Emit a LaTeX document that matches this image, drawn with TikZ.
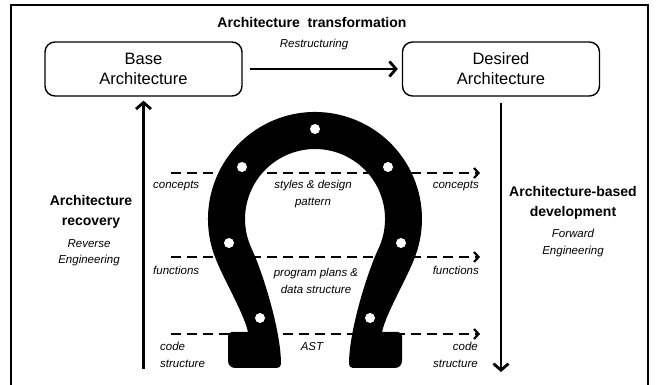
\documentclass[tikz,border=0pt]{standalone}
\usepackage{fontspec}
\setmainfont{Liberation Sans}
\usetikzlibrary{arrows.meta}
\begin{document}
\begin{tikzpicture}[x=1pt,y=1pt,
  archbox/.style={draw, line width=1.4pt, rounded corners=10pt,
    minimum width=197pt, minimum height=54pt, align=center,
    font=\fontsize{16.5}{20}\selectfont},
  mainarrow/.style={line width=2.8pt, -{Straight Barb[length=6.5pt,width=15pt]}},
  layerarrow/.style={line width=2.2pt, dash pattern=on 10pt off 6pt,
    -{Straight Barb[length=4.5pt,width=10pt]}},
  lbl/.style={font=\fontsize{11.5}{16.5}\selectfont\itshape, inner sep=0pt, align=center},
  headlbl/.style={font=\fontsize{14}{20}\selectfont\bfseries, inner sep=0pt, align=center},
  hole/.style={fill=white}
]
\useasboundingbox (0,0) rectangle (656,385);

% outer frame (open at the bottom)
\draw[line width=2pt] (11,-5) -- (11,380) -- (648,380) -- (648,-5);

% architecture boxes
\node[archbox] (base) at (143.5,316) {Base\\Architecture};
\node[archbox] (desired) at (501,316) {Desired\\Architecture};

% transformation
\node[headlbl] (title) at (312,362) {Architecture\ \ transformation};
\node[lbl] (restr) at (314,340) {Restructuring};
\draw[mainarrow, shorten <=7pt, shorten >=4pt] (base) -- (desired);

% recovery and forward development
\coordinate (lbot) at (143.5,16);
\coordinate (rbot) at (501,13);
\draw[mainarrow, shorten >=4pt] (lbot) -- (base);
\draw[mainarrow, shorten <=6pt] (desired) -- (rbot);

\node[headlbl] (rec) at (91,173) {Architecture\\recovery};
\node[lbl] (rev) at (89,132.5) {Reverse\\Engineering};
\node[headlbl] (abd) at (573,182) {Architecture-based\\development};
\node[lbl] (fwd) at (573,142) {Forward\\Engineering};

% abstraction levels
\coordinate (c1s) at (171,212);  \coordinate (c1e) at (480,212);
\coordinate (c2s) at (171,128);  \coordinate (c2e) at (480,128);
\coordinate (c3s) at (171,51);   \coordinate (c3e) at (480,51);
\draw[layerarrow] (c1s) -- (c1e);
\draw[layerarrow] (c2s) -- (c2e);
\draw[layerarrow] (c3s) -- (c3e);

% horseshoe
\fill[black]
  (417.4,135.1) arc[start angle=-16.8, end angle=196.8, radius=107pt]
  .. controls (219.8,111.1) and (243,75) .. (248,53)
  -- (232,53) arc[start angle=90, end angle=180, radius=4pt]
  -- (228,24) arc[start angle=180, end angle=270, radius=7pt]
  -- (277,17) arc[start angle=-90, end angle=0, radius=4pt]
  .. controls (281,55) and (262.2,113.8) .. (251.6,136.4)
  arc[start angle=205, end angle=-25, radius=70pt]
  .. controls (367.8,113.8) and (349,55) .. (349,21)
  arc[start angle=180, end angle=270, radius=4pt]
  -- (395,17) arc[start angle=-90, end angle=0, radius=7pt]
  -- (402,49) arc[start angle=0, end angle=90, radius=4pt]
  -- (382,53) .. controls (387,75) and (410.2,111.1) .. (417.4,135.1)
  -- cycle;
\foreach \p in {(315,256),(242,218),(388,218),(229,142),(401,142),(260,67),(370,67)}
  \fill[hole] \p circle (5pt);

% level labels
\node[lbl, anchor=west] (lc) at (153,199) {concepts};
\node[lbl, anchor=west] (lf) at (153,115) {functions};
\node[lbl, anchor=west, align=left] (lcs) at (160,30) {code\\structure};
\node[lbl, anchor=east] (rc) at (479,199) {concepts};
\node[lbl, anchor=east] (rf) at (479,115) {functions};
\node[lbl, anchor=east, align=right] (rcs) at (478,30) {code\\structure};
\node[lbl] (mc) at (313,191) {styles \& design\\pattern};
\node[lbl] (mf) at (316,104) {program plans \&\\data structure};
\node[lbl] (ma) at (312,38) {AST};
\end{tikzpicture}
\end{document}
